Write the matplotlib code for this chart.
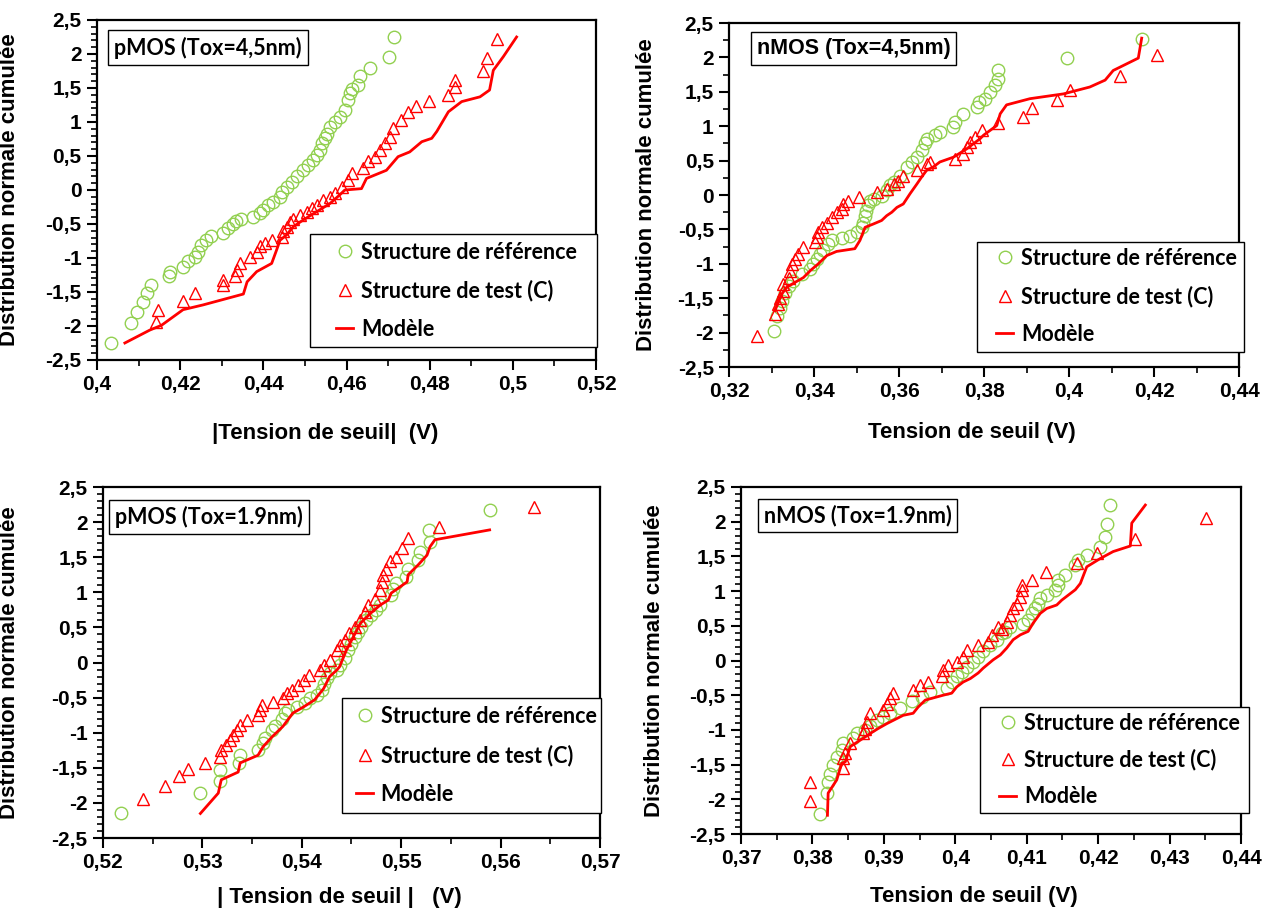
import matplotlib
matplotlib.use('Agg')
import matplotlib.pyplot as plt
from matplotlib.ticker import MultipleLocator, FuncFormatter
from matplotlib.patches import Rectangle

# ---- pMOS Tox=4,5nm ----
p45_ref_x = [0.4034, 0.4081, 0.4095, 0.4111, 0.4121, 0.4131, 0.4174, 0.4176, 0.4207, 0.4219,
             0.4235, 0.4243, 0.4251, 0.4263, 0.4275, 0.4303, 0.4315, 0.4327, 0.4335, 0.4347,
             0.4376, 0.4392, 0.4400, 0.4412, 0.4424, 0.4440, 0.4444, 0.4456, 0.4468, 0.4480,
             0.4496, 0.4508, 0.4520, 0.4528, 0.4536, 0.4540, 0.4548, 0.4552, 0.4560, 0.4572,
             0.4584, 0.4596, 0.4604, 0.4608, 0.4612, 0.4628, 0.4632, 0.4657, 0.4703, 0.4713]
p45_ref_y = [-2.25, -1.96, -1.79, -1.64, -1.52, -1.39, -1.27, -1.20, -1.13, -1.05,
             -0.98, -0.91, -0.81, -0.74, -0.68, -0.63, -0.56, -0.50, -0.45, -0.42,
             -0.39, -0.34, -0.29, -0.22, -0.17, -0.10, -0.03, 0.05, 0.12, 0.20,
             0.29, 0.37, 0.44, 0.51, 0.59, 0.69, 0.76, 0.83, 0.93, 1.00,
             1.08, 1.18, 1.32, 1.42, 1.48, 1.54, 1.67, 1.79, 1.96, 2.25]
p45_test_x = [0.4143, 0.4147, 0.4206, 0.4236, 0.4302, 0.4302, 0.4332, 0.4336, 0.4344, 0.4368,
              0.4384, 0.4392, 0.4404, 0.4422, 0.4444, 0.4448, 0.4456, 0.4464, 0.4472, 0.4488,
              0.4504, 0.4516, 0.4528, 0.4544, 0.4560, 0.4572, 0.4588, 0.4604, 0.4612, 0.4640,
              0.4652, 0.4668, 0.4680, 0.4692, 0.4704, 0.4712, 0.4732, 0.4748, 0.4768, 0.4799,
              0.4845, 0.4861, 0.4861, 0.4929, 0.4937, 0.4961]
p45_test_y = [-1.94, -1.76, -1.63, -1.51, -1.40, -1.32, -1.27, -1.18, -1.08, -0.98,
              -0.91, -0.83, -0.78, -0.74, -0.69, -0.61, -0.54, -0.47, -0.42, -0.37,
              -0.32, -0.27, -0.22, -0.15, -0.10, -0.05, 0.05, 0.15, 0.25, 0.32,
              0.42, 0.49, 0.59, 0.69, 0.78, 0.91, 1.03, 1.15, 1.23, 1.31,
              1.40, 1.52, 1.62, 1.75, 1.94, 2.22]
p45_mod_x = [0.4067, 0.4127, 0.4155, 0.4207, 0.4255, 0.4352, 0.4361, 0.4384, 0.4420, 0.4432,
             0.4440, 0.4456, 0.4472, 0.4496, 0.4536, 0.4560, 0.4584, 0.4596, 0.4636, 0.4648,
             0.4696, 0.4724, 0.4752, 0.4781, 0.4805, 0.4817, 0.4845, 0.4877, 0.4921, 0.4944,
             0.4953, 0.4977, 0.5009]
p45_mod_y = [-2.25, -2.06, -1.99, -1.76, -1.69, -1.53, -1.35, -1.20, -1.08, -0.88,
             -0.74, -0.66, -0.54, -0.44, -0.29, -0.20, -0.07, 0.00, 0.02, 0.17,
             0.29, 0.49, 0.56, 0.71, 0.76, 0.86, 1.15, 1.30, 1.37, 1.47,
             1.76, 1.96, 2.25]

# ---- nMOS Tox=4,5nm ----
n45_ref_x = [0.3306, 0.3314, 0.3320, 0.3324, 0.3332, 0.3340, 0.3351, 0.3371, 0.3391, 0.3398,
             0.3406, 0.3414, 0.3422, 0.3434, 0.3442, 0.3465, 0.3485, 0.3500, 0.3512, 0.3516,
             0.3520, 0.3522, 0.3526, 0.3532, 0.3540, 0.3559, 0.3571, 0.3579, 0.3587, 0.3602,
             0.3618, 0.3630, 0.3642, 0.3653, 0.3661, 0.3665, 0.3685, 0.3696, 0.3728, 0.3732,
             0.3751, 0.3783, 0.3787, 0.3802, 0.3814, 0.3826, 0.3834, 0.3834, 0.3996, 0.4171]
n45_ref_y = [-1.98, -1.76, -1.64, -1.54, -1.42, -1.32, -1.25, -1.15, -1.08, -1.00,
             -0.93, -0.86, -0.80, -0.71, -0.66, -0.62, -0.59, -0.54, -0.47, -0.40,
             -0.30, -0.23, -0.15, -0.08, -0.06, -0.01, 0.07, 0.14, 0.19, 0.28,
             0.41, 0.48, 0.55, 0.65, 0.75, 0.82, 0.87, 0.92, 0.99, 1.06,
             1.18, 1.28, 1.35, 1.40, 1.50, 1.60, 1.69, 1.81, 1.99, 2.27]
n45_test_x = [0.3265, 0.3308, 0.3316, 0.3320, 0.3328, 0.3328, 0.3340, 0.3344, 0.3348, 0.3355,
              0.3363, 0.3374, 0.3402, 0.3406, 0.3410, 0.3418, 0.3430, 0.3442, 0.3453, 0.3465,
              0.3469, 0.3481, 0.3505, 0.3548, 0.3571, 0.3587, 0.3598, 0.3610, 0.3642, 0.3665,
              0.3673, 0.3732, 0.3751, 0.3759, 0.3767, 0.3779, 0.3795, 0.3834, 0.3892, 0.3912,
              0.3972, 0.4002, 0.4120, 0.4206]
n45_test_y = [-2.05, -1.73, -1.59, -1.49, -1.39, -1.29, -1.20, -1.10, -1.00, -0.93,
              -0.86, -0.76, -0.69, -0.61, -0.54, -0.47, -0.40, -0.32, -0.25, -0.20,
              -0.13, -0.08, -0.03, 0.04, 0.09, 0.16, 0.21, 0.28, 0.36, 0.45,
              0.48, 0.53, 0.60, 0.70, 0.77, 0.84, 0.94, 1.04, 1.13, 1.26,
              1.38, 1.53, 1.73, 2.03]
n45_mod_x = [0.3308, 0.3324, 0.3336, 0.3355, 0.3375, 0.3391, 0.3410, 0.3430, 0.3453, 0.3496,
             0.3508, 0.3520, 0.3540, 0.3559, 0.3571, 0.3583, 0.3595, 0.3610, 0.3626, 0.3642,
             0.3653, 0.3665, 0.3681, 0.3696, 0.3728, 0.3759, 0.3791, 0.3799, 0.3830, 0.3838,
             0.3853, 0.3908, 0.3987, 0.4049, 0.4085, 0.4104, 0.4163, 0.4171]
n45_mod_y = [-1.68, -1.44, -1.34, -1.27, -1.20, -1.10, -1.00, -0.88, -0.82, -0.78,
             -0.66, -0.47, -0.42, -0.37, -0.30, -0.25, -0.18, -0.13, 0.02, 0.16,
             0.26, 0.36, 0.41, 0.48, 0.55, 0.67, 0.82, 0.87, 1.01, 1.18,
             1.31, 1.40, 1.47, 1.57, 1.67, 1.81, 1.99, 2.28]

# ---- pMOS Tox=1.9nm ----
p19_ref_x = [0.5218, 0.5298, 0.5318, 0.5318, 0.5337, 0.5338, 0.5356, 0.5361, 0.5363, 0.5370,
             0.5373, 0.5380, 0.5383, 0.5386, 0.5395, 0.5403, 0.5408, 0.5415, 0.5420, 0.5422,
             0.5425, 0.5428, 0.5435, 0.5438, 0.5443, 0.5447, 0.5450, 0.5454, 0.5457, 0.5460,
             0.5465, 0.5470, 0.5475, 0.5479, 0.5490, 0.5492, 0.5495, 0.5505, 0.5507, 0.5517,
             0.5519, 0.5529, 0.5528, 0.5589]
p19_ref_y = [-2.15, -1.86, -1.69, -1.53, -1.43, -1.32, -1.25, -1.15, -1.08, -0.96,
             -0.91, -0.80, -0.72, -0.68, -0.63, -0.58, -0.51, -0.46, -0.39, -0.30,
             -0.22, -0.15, -0.11, -0.04, 0.06, 0.18, 0.27, 0.37, 0.44, 0.51,
             0.61, 0.68, 0.75, 0.82, 0.96, 1.05, 1.13, 1.22, 1.34, 1.46,
             1.58, 1.72, 1.89, 2.18]
p19_test_x = [0.5240, 0.5262, 0.5276, 0.5286, 0.5303, 0.5318, 0.5319, 0.5324, 0.5328, 0.5331,
              0.5335, 0.5338, 0.5345, 0.5356, 0.5358, 0.5360, 0.5371, 0.5381, 0.5385, 0.5390,
              0.5396, 0.5402, 0.5407, 0.5418, 0.5422, 0.5428, 0.5435, 0.5438, 0.5443, 0.5448,
              0.5454, 0.5459, 0.5464, 0.5467, 0.5474, 0.5479, 0.5481, 0.5482, 0.5485, 0.5489,
              0.5495, 0.5501, 0.5507, 0.5538, 0.5634]
p19_test_y = [-1.95, -1.76, -1.62, -1.51, -1.43, -1.34, -1.25, -1.18, -1.10, -1.03,
              -0.96, -0.89, -0.82, -0.75, -0.68, -0.61, -0.56, -0.51, -0.44, -0.39,
              -0.32, -0.25, -0.18, -0.11, -0.04, 0.04, 0.18, 0.25, 0.32, 0.42,
              0.51, 0.61, 0.72, 0.82, 0.91, 1.03, 1.15, 1.25, 1.34, 1.44,
              1.51, 1.63, 1.77, 1.93, 2.22]
p19_mod_x = [0.5298, 0.5316, 0.5319, 0.5336, 0.5338, 0.5356, 0.5361, 0.5370, 0.5381, 0.5391,
             0.5402, 0.5413, 0.5422, 0.5428, 0.5435, 0.5438, 0.5445, 0.5452, 0.5459, 0.5469,
             0.5479, 0.5487, 0.5490, 0.5499, 0.5506, 0.5507, 0.5517, 0.5526, 0.5529, 0.5534,
             0.5589]
p19_mod_y = [-2.15, -1.86, -1.67, -1.56, -1.43, -1.32, -1.20, -1.06, -0.91, -0.72,
             -0.63, -0.53, -0.37, -0.20, -0.11, -0.06, 0.18, 0.37, 0.56, 0.70,
             0.82, 0.89, 0.99, 1.08, 1.15, 1.25, 1.39, 1.53, 1.65, 1.75,
             1.89]

# ---- nMOS Tox=1.9nm ----
n19_ref_x = [0.3811, 0.3820, 0.3822, 0.3825, 0.3829, 0.3834, 0.3841, 0.3843, 0.3857, 0.3862,
             0.3874, 0.3881, 0.3890, 0.3899, 0.3909, 0.3923, 0.3939, 0.3953, 0.3965, 0.3988,
             0.3995, 0.4002, 0.4009, 0.4016, 0.4025, 0.4032, 0.4039, 0.4049, 0.4058, 0.4065,
             0.4070, 0.4077, 0.4095, 0.4102, 0.4107, 0.4112, 0.4116, 0.4119, 0.4128, 0.4140,
             0.4144, 0.4144, 0.4154, 0.4168, 0.4172, 0.4185, 0.4202, 0.4210, 0.4212, 0.4217]
n19_ref_y = [-2.21, -1.91, -1.75, -1.63, -1.51, -1.39, -1.29, -1.19, -1.12, -1.05,
             -1.00, -0.95, -0.86, -0.81, -0.76, -0.69, -0.59, -0.52, -0.45, -0.40,
             -0.31, -0.23, -0.16, -0.09, -0.02, 0.05, 0.13, 0.22, 0.30, 0.39,
             0.41, 0.49, 0.53, 0.58, 0.68, 0.75, 0.82, 0.90, 0.94, 1.02,
             1.09, 1.16, 1.23, 1.38, 1.45, 1.52, 1.64, 1.78, 1.96, 2.24]
n19_test_x = [0.3797, 0.3797, 0.3843, 0.3843, 0.3846, 0.3853, 0.3871, 0.3874, 0.3876, 0.3881,
              0.3899, 0.3904, 0.3909, 0.3913, 0.3941, 0.3951, 0.3962, 0.3981, 0.3983, 0.3990,
              0.4002, 0.4011, 0.4016, 0.4032, 0.4046, 0.4051, 0.4060, 0.4065, 0.4072, 0.4077,
              0.4081, 0.4086, 0.4091, 0.4093, 0.4093, 0.4107, 0.4127, 0.4171, 0.4198, 0.4252,
              0.4351]
n19_test_y = [-2.03, -1.75, -1.55, -1.41, -1.33, -1.19, -1.05, -0.98, -0.88, -0.76,
              -0.71, -0.62, -0.54, -0.47, -0.43, -0.35, -0.31, -0.23, -0.14, -0.06,
              -0.02, 0.05, 0.15, 0.22, 0.27, 0.37, 0.49, 0.46, 0.56, 0.66,
              0.75, 0.82, 0.92, 1.02, 1.09, 1.16, 1.27, 1.40, 1.55, 1.75,
              2.05]
n19_mod_x = [0.3821, 0.3822, 0.3834, 0.3841, 0.3846, 0.3853, 0.3871, 0.3881, 0.3892, 0.3904,
             0.3927, 0.3941, 0.3948, 0.3958, 0.3983, 0.3995, 0.4002, 0.4011, 0.4021, 0.4032,
             0.4039, 0.4053, 0.4063, 0.4072, 0.4081, 0.4091, 0.4102, 0.4109, 0.4119, 0.4128,
             0.4142, 0.4149, 0.4168, 0.4175, 0.4184, 0.4203, 0.4221, 0.4245, 0.4247, 0.4266]
n19_mod_y = [-2.23, -1.91, -1.72, -1.48, -1.46, -1.24, -1.12, -1.05, -0.98, -0.91,
             -0.79, -0.76, -0.67, -0.57, -0.50, -0.47, -0.38, -0.31, -0.26, -0.18,
             -0.11, 0.01, 0.08, 0.18, 0.30, 0.37, 0.42, 0.54, 0.68, 0.75,
             0.80, 0.87, 1.02, 1.11, 1.35, 1.47, 1.57, 1.65, 1.98, 2.24]

labels = ['Structure de référence', 'Structure de test (C)', 'Modèle']
green = '#92d050'
red = '#ff0000'
ARIAL = ['Liberation Sans', 'DejaVu Sans']
CALIBRI = ['Lato', 'DejaVu Sans']


def fr(v, pos):
    return ('%g' % round(v, 4)).replace('.', ',')


def panel(rect, rx, ry, tx, ty, mx, my, xlim, xmaj, xmin, ymin_step,
          title, title_font, title_pos, xlabel, xlabel_xy, ylabel_x,
          leg_anchor, leg_frame, leg_space):
    ax = fig.add_axes(rect)
    ax.plot(rx, ry, 'o', ms=9, mfc='none', mec=green, mew=1.0, label=labels[0])
    ax.plot(tx, ty, '^', ms=9, mfc='none', mec=red, mew=1.0, label=labels[1])
    ax.plot(mx, my, '-', color=red, lw=2.0, label=labels[2])
    ax.set_xlim(*xlim)
    ax.set_ylim(-2.5, 2.5)
    ax.xaxis.set_major_locator(MultipleLocator(xmaj))
    ax.xaxis.set_minor_locator(MultipleLocator(xmin))
    ax.yaxis.set_major_locator(MultipleLocator(0.5))
    ax.yaxis.set_minor_locator(MultipleLocator(ymin_step))
    ax.xaxis.set_major_formatter(FuncFormatter(fr))
    ax.yaxis.set_major_formatter(FuncFormatter(fr))
    ax.tick_params(which='major', direction='out', length=7, width=1.5, pad=4)
    ax.tick_params(which='minor', direction='out', length=4, width=1.2)
    for lab in ax.get_xticklabels() + ax.get_yticklabels():
        lab.set_fontfamily(ARIAL)
        lab.set_fontweight('bold')
        lab.set_fontsize(15)
    for s in ax.spines.values():
        s.set_linewidth(1.6)
    ax.set_xlabel(xlabel, family=ARIAL, weight='bold', fontsize=16)
    ax.xaxis.set_label_coords(*xlabel_xy)
    ax.set_ylabel('Distribution normale cumulée', family=ARIAL, weight='bold', fontsize=16)
    ax.yaxis.set_label_coords(ylabel_x, 0.5)
    ax.text(title_pos[0], title_pos[1], title, transform=ax.transAxes, ha='center', va='center',
            family=title_font, weight='bold', fontsize=15.5,
            bbox=dict(boxstyle='square,pad=0.28', fc='white', ec='black', lw=1.0))
    # legend frame drawn separately so the left padding can differ from the row padding
    ax.add_patch(Rectangle(leg_frame[:2], leg_frame[2], leg_frame[3], transform=ax.transAxes,
                           fc='white', ec='black', lw=1.0, clip_on=False, zorder=4))
    leg = ax.legend(loc='upper left', bbox_to_anchor=leg_anchor, borderaxespad=0, borderpad=0,
                    prop={'family': CALIBRI, 'weight': 'bold', 'size': 15.5},
                    frameon=False, handlelength=0.8, handletextpad=0.35, labelspacing=leg_space)
    leg.set_zorder(5)
    return ax


fig = plt.figure(figsize=(12.73, 9.13), dpi=100)

panel([0.0762, 0.6057, 0.3920, 0.3724], p45_ref_x, p45_ref_y, p45_test_x, p45_test_y,
      p45_mod_x, p45_mod_y, (0.40, 0.52), 0.02, 0.01, 0.1,
      'pMOS (Tox=4,5nm)', CALIBRI, (0.222, 0.919), '|Tension de seuil|  (V)', (0.458, -0.185),
      -0.154, (0.479, 0.348), (0.427, 0.038, 0.575, 0.332), 0.8)

panel([0.5727, 0.5980, 0.4006, 0.3768], n45_ref_x, n45_ref_y, n45_test_x, n45_test_y,
      n45_mod_x, n45_mod_y, (0.32, 0.44), 0.02, 0.01, 0.25,
      'nMOS (Tox=4,5nm)', ARIAL, (0.244, 0.927), 'Tension de seuil (V)', (0.477, -0.16),
      -0.141, (0.524, 0.347), (0.486, 0.044, 0.524, 0.320), 0.78)

panel([0.0809, 0.0821, 0.3904, 0.3844], p19_ref_x, p19_ref_y, p19_test_x, p19_test_y,
      p19_mod_x, p19_mod_y, (0.52, 0.57), 0.01, 0.005, 0.1,
      'pMOS (Tox=1.9nm)', CALIBRI, (0.214, 0.915), '| Tension de seuil |   (V)', (0.475, -0.14),
      -0.167, (0.509, 0.377), (0.481, 0.071, 0.521, 0.328), 0.82)

panel([0.5821, 0.0865, 0.3928, 0.3801], n19_ref_x, n19_ref_y, n19_test_x, n19_test_y,
      n19_mod_x, n19_mod_y, (0.37, 0.44), 0.01, 0.005, 0.1,
      'nMOS (Tox=1.9nm)', CALIBRI, (0.233, 0.918), 'Tension de seuil (V)', (0.466, -0.15),
      -0.152, (0.516, 0.35), (0.478, 0.0605, 0.538, 0.305), 0.72)

fig.savefig('out.png', dpi=100)
